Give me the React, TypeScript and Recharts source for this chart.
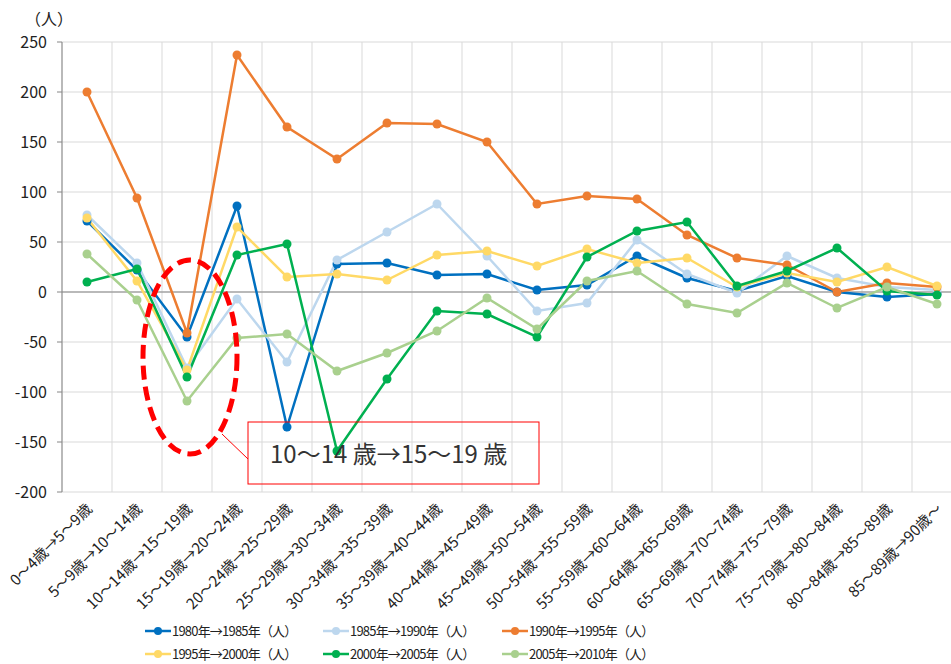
import {
  LineChart,
  Line,
  XAxis,
  YAxis,
  CartesianGrid,
  ReferenceLine,
  ReferenceDot,
} from "recharts";

const FONT = '"Noto Sans CJK JP", "Noto Sans", sans-serif';

const categories = [
  "0～4歳→5～9歳",
  "5～9歳→10～14歳",
  "10～14歳→15～19歳",
  "15～19歳→20～24歳",
  "20～24歳→25～29歳",
  "25～29歳→30～34歳",
  "30～34歳→35～39歳",
  "35～39歳→40～44歳",
  "40～44歳→45～49歳",
  "45～49歳→50～54歳",
  "50～54歳→55～59歳",
  "55～59歳→60～64歳",
  "60～64歳→65～69歳",
  "65～69歳→70～74歳",
  "70～74歳→75～79歳",
  "75～79歳→80～84歳",
  "80～84歳→85～89歳",
  "85～89歳→90歳～",
];

const s1980 = [71, 22, -45, 86, -135, 28, 29, 17, 18, 2, 7, 36, 14, 1, 16, 0, -5, -2];
const s1985 = [77, 29, -76, -7, -70, 32, 60, 88, 36, -19, -11, 52, 18, -1, 36, 14, 5, 2];
const s1990 = [200, 94, -41, 237, 165, 133, 169, 168, 150, 88, 96, 93, 57, 34, 27, 0, 9, 5];
const s1995 = [74, 11, -78, 65, 15, 18, 12, 37, 41, 26, 43, 29, 34, 5, 19, 10, 25, 6];
const s2000 = [10, 23, -85, 37, 48, -159, -87, -19, -22, -45, 35, 61, 70, 6, 21, 44, 1, -3];
const s2005 = [38, -8, -109, -46, -42, -79, -61, -39, -6, -37, 11, 21, -12, -21, 9, -16, 5, -12];

const seriesNames = [
  "1980年→1985年（人）",
  "1985年→1990年（人）",
  "1990年→1995年（人）",
  "1995年→2000年（人）",
  "2000年→2005年（人）",
  "2005年→2010年（人）",
];
const seriesValues = [s1980, s1985, s1990, s1995, s2000, s2005];
const seriesColors = ["#0070C0", "#BDD7EE", "#ED7D31", "#FFD966", "#00B050", "#A9D08E"];

const yTicks = [-200, -150, -100, -50, 0, 50, 100, 150, 200, 250];

const calloutCategory = categories[2];
const calloutValue = -65;
const calloutText = "10～14 歳→15～19 歳";

const data = categories.map((name, i) => {
  const row: Record<string, string | number> = { name };
  seriesNames.forEach((s, k) => {
    row[s] = seriesValues[k][i];
  });
  return row;
});

const XTick = (props: any) => {
  const { x, y, payload } = props;
  const ax = x + 6;
  const ay = y + 10;
  return (
    <text
      x={ax}
      y={ay}
      transform={`rotate(-45 ${ax} ${ay})`}
      textAnchor="end"
      fontSize={15}
      fill="#222"
      fontFamily={FONT}
    >
      {payload.value}
    </text>
  );
};

const Callout = (props: any) => {
  const { cx, cy } = props;
  return (
    <g>
      <ellipse
        cx={cx + 3}
        cy={cy}
        rx={47}
        ry={97}
        fill="none"
        stroke="#FF0000"
        strokeWidth={5}
        strokeDasharray="14 7"
      />
      <line x1={cx + 35} y1={cy + 77} x2={cx + 61} y2={cy + 102} stroke="#FF0000" strokeWidth={1} />
      <rect x={cx + 61} y={cy + 65} width={291} height={62} fill="none" stroke="#FF0000" strokeWidth={1} />
      <text x={cx + 83} y={cy + 106} fontSize={24} fill="#333" fontFamily={FONT}>
        {calloutText}
      </text>
    </g>
  );
};

const LegendBox = () => (
  <div style={{ position: "absolute", left: 0, top: 0, width: 951, height: 664, pointerEvents: "none" }}>
    {seriesNames.map((name, k) => {
      const col = k % 3;
      const row = Math.floor(k / 3);
      return (
        <div
          key={name}
          style={{
            position: "absolute",
            left: [145, 323, 502][col],
            top: 622 + row * 23,
            height: 18,
            lineHeight: "18px",
            display: "flex",
            alignItems: "center",
            fontFamily: FONT,
            fontSize: 13,
            letterSpacing: -0.8,
            color: "#222",
            whiteSpace: "nowrap",
          }}
        >
          <svg width={26} height={10} style={{ marginRight: 1 }}>
            <line x1={0} y1={5} x2={26} y2={5} stroke={seriesColors[k]} strokeWidth={2.5} />
            <circle cx={13} cy={5} r={4} fill={seriesColors[k]} />
          </svg>
          {name}
        </div>
      );
    })}
  </div>
);

export default function App() {
  return (
    <div
      style={{
        position: "absolute",
        left: 0,
        top: 0,
        width: 951,
        height: 664,
        overflow: "hidden",
        background: "#fff",
      }}
    >
      <LineChart
        width={970}
        height={664}
        data={data}
        margin={{ top: 42, right: 8, bottom: 0, left: 0 }}
        style={{ fontFamily: FONT }}
      >
        <CartesianGrid
          stroke="#d9d9d9"
          verticalCoordinatesGenerator={({ offset }: any) =>
            Array.from({ length: categories.length + 1 }, (_, k) => offset.left + (k * offset.width) / categories.length)
          }
        />
        <XAxis
          dataKey="name"
          scale="band"
          interval={0}
          axisLine={false}
          tickLine={false}
          height={172}
          tick={<XTick />}
        />
        <YAxis
          width={62}
          domain={[-200, 250]}
          ticks={yTicks}
          interval={0}
          tickSize={5}
          tickMargin={10}
          axisLine={{ stroke: "#868686" }}
          tickLine={{ stroke: "#868686" }}
          tick={{ fontSize: 16, fill: "#222" }}
          label={{ value: "（人）", position: "top", offset: 17, dx: 18, fontSize: 16, fill: "#222" }}
        />
        <ReferenceLine y={0} stroke="#868686" strokeWidth={1} />
        {seriesNames.map((name, k) => (
          <Line
            key={name}
            type="linear"
            dataKey={name}
            stroke={seriesColors[k]}
            strokeWidth={2.5}
            dot={{ r: 4.5, fill: seriesColors[k], stroke: seriesColors[k], strokeWidth: 0 }}
            activeDot={false}
            isAnimationActive={false}
          />
        ))}
        <ReferenceDot x={calloutCategory} y={calloutValue} r={0} shape={<Callout />} />
      </LineChart>
      <LegendBox />
    </div>
  );
}
